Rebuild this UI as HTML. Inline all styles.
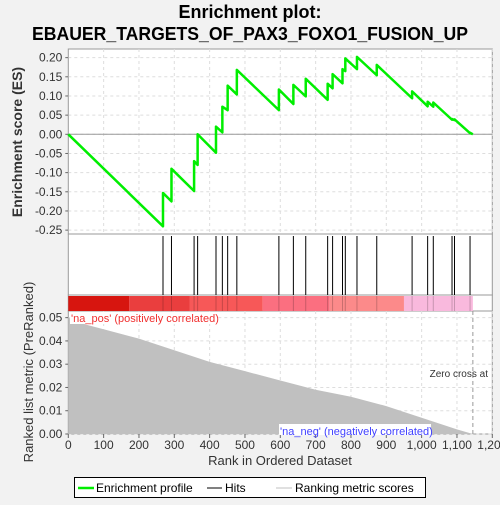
<!DOCTYPE html>
<html><head><meta charset="utf-8"><style>
body{margin:0;background:#f2f2f2;width:500px;height:500px;overflow:hidden;font-family:"Liberation Sans","DejaVu Sans",sans-serif}
</style></head><body>
<svg id="chart" width="500" height="500" xmlns="http://www.w3.org/2000/svg">
<text x="250" y="18" text-anchor="middle" font-size="18" font-weight="bold" fill="#000">Enrichment plot:</text>
<text x="250" y="40" text-anchor="middle" font-size="18" font-weight="bold" fill="#000" textLength="436" lengthAdjust="spacingAndGlyphs">EBAUER_TARGETS_OF_PAX3_FOXO1_FUSION_UP</text>
<g id="g"></g>
</svg>
<script>
const hitRanks=[268,292,356,366,418,436,451,477,596,637,672,734,748,776,784,817,873,973,1017,1033,1086,1093,1137];
const esBefore=[-0.240,-0.175,-0.148,-0.080,-0.048,0.005,0.063,0.104,0.063,0.079,0.099,0.090,0.120,0.133,0.165,0.170,0.154,0.094,0.073,0.072,0.038,0.037,0.003];
const esAfter=[-0.153,-0.090,-0.070,0.000,0.020,0.072,0.127,0.168,0.117,0.129,0.145,0.132,0.157,0.170,0.198,0.202,0.181,0.112,0.085,0.083,0.040,0.039,0.004];
const totalRanks=1145;
const metricRanks=[0,50,100,200,300,400,500,600,700,800,900,1000,1100,1145];
const metricVals=[0.050,0.047,0.045,0.041,0.036,0.031,0.027,0.023,0.019,0.016,0.012,0.007,0.002,0.000];
const esTicks=[0.20,0.15,0.10,0.05,0.00,-0.05,-0.10,-0.15,-0.20,-0.25];
const metricTicks=[0.05,0.04,0.03,0.02,0.01,0.00];
const xTicks=[0,100,200,300,400,500,600,700,800,900,1000,1100,1200];
const xTickLabels=["0","100","200","300","400","500","600","700","800","900","1,000","1,100","1,200"];
const bands=[[0,172,"#d7150f"],[172,343,"#ea3e3e"],[343,550,"#f75858"],[550,740,"#fb6f80"],[740,950,"#fc8a8a"],[950,1145,"#f9b9dd"]];

const L=68.3,R=492.3;
const X=r=>L+(R-L)*r/1200;
const YE=v=>134.3-v*383.3;
const YM=v=>434-v*2327;
const g=document.getElementById('g');
const NS="http://www.w3.org/2000/svg";
function mk(t,a,p){const e=document.createElementNS(NS,t);for(const k in a)e.setAttribute(k,a[k]);(p||g).appendChild(e);return e;}

// panel backgrounds
let e;
e=mk('rect',{x:L,y:49,width:R-L,height:185,fill:'#fff',stroke:'#999'});


e=mk('rect',{x:L,y:234,width:R-L,height:61,fill:'#fff',stroke:'#999'});


e=mk('rect',{x:L,y:295,width:R-L,height:16,fill:'#fff',stroke:'#999'});


e=mk('rect',{x:L,y:311,width:R-L,height:123,fill:'#fff',stroke:'#999'});



// grids
xTicks.forEach(t=>{
 if(t===0)return;
 mk('line',{x1:X(t),x2:X(t),y1:49,y2:234,stroke:'#ddd','stroke-dasharray':'3,3'});
 mk('line',{x1:X(t),x2:X(t),y1:311,y2:434,stroke:'#ddd','stroke-dasharray':'3,3'});
});
esTicks.forEach(t=>{
 mk('line',{x1:L,x2:R,y1:YE(t),y2:YE(t),stroke:'#ddd','stroke-dasharray':'3,3'});
 e=mk('text',{x:L-6,y:YE(t)+4,'text-anchor':'end','font-size':12,fill:'#333'});
 e.textContent=t.toFixed(2);
 
 
 mk('line',{x1:L-3,x2:L,y1:YE(t),y2:YE(t),stroke:'#666'});
});
mk('line',{x1:L,x2:R,y1:YE(0),y2:YE(0),stroke:'#999'});
metricTicks.forEach(t=>{
 mk('line',{x1:L,x2:R,y1:YM(t),y2:YM(t),stroke:'#ddd','stroke-dasharray':'3,3'});
 e=mk('text',{x:L-6,y:YM(t)+4,'text-anchor':'end','font-size':12,fill:'#333'});
 e.textContent=t.toFixed(2);
 
 
 mk('line',{x1:L-3,x2:L,y1:YM(t),y2:YM(t),stroke:'#666'});
});
xTicks.forEach((t,i)=>{
 mk('line',{x1:X(t),x2:X(t),y1:434,y2:438,stroke:'#666'});
 e=mk('text',{x:X(t),y:449,'text-anchor':'middle','font-size':12,fill:'#333'});
 e.textContent=xTickLabels[i];
 
 
});

// color bands
bands.forEach(b=>{
 e=mk('rect',{x:X(b[0]),y:296,width:X(b[1])-X(b[0]),height:15,fill:b[2]});
 
 
});

// metric area
let pts=[[X(0),YM(0)]];
metricRanks.forEach((r,i)=>pts.push([X(r),YM(metricVals[i])]));
pts.push([X(metricRanks[metricRanks.length-1]),YM(0)]);
e=mk('polygon',{points:pts.map(p=>p.join(',')).join(' '),fill:'#c0c0c0'});


mk('line',{x1:X(totalRanks),x2:X(totalRanks),y1:311,y2:434,stroke:'#999','stroke-dasharray':'4,3'});
e=mk('text',{x:488,y:377,'text-anchor':'end','font-size':10,fill:'#333'});
e.textContent='Zero cross at';


e=mk('rect',{x:70,y:312,width:146,height:12,fill:'#fff'});
e=mk('text',{x:71,y:322,'font-size':11,fill:'#f03030'});
e.textContent="'na_pos' (positively correlated)";


e=mk('rect',{x:279,y:424,width:152,height:11,fill:'#fff'});
e=mk('text',{x:280,y:435,'font-size':11,fill:'#4040ff'});
e.textContent="'na_neg' (negatively correlated)";



// hits
hitRanks.forEach(r=>{
 e=mk('line',{x1:X(r),x2:X(r),y1:236,y2:295,stroke:'#000','stroke-width':1});
 
 
 mk('line',{x1:X(r),x2:X(r),y1:296,y2:311,stroke:'rgba(0,0,0,0.2)'});
});

// ES line
let d='M'+X(0)+','+YE(0);
hitRanks.forEach((r,i)=>{d+=' L'+X(r)+','+YE(esBefore[i])+' L'+X(r)+','+YE(esAfter[i]);});
d+=' L'+X(totalRanks)+','+YE(0);
e=mk('path',{d:d,fill:'none',stroke:'#00ee00','stroke-width':2.5,'stroke-linejoin':'round'});



// axis titles
e=mk('text',{x:0,y:0,'font-size':14,'font-weight':'bold',fill:'#333','text-anchor':'middle',transform:'translate(22,142) rotate(-90)'});
e.textContent='Enrichment score (ES)';


e=mk('text',{x:0,y:0,'font-size':13,fill:'#333','text-anchor':'middle',transform:'translate(33,372) rotate(-90)'});
e.textContent='Ranked list metric (PreRanked)';


e=mk('text',{x:280,y:465,'font-size':13,fill:'#333','text-anchor':'middle'});
e.textContent='Rank in Ordered Dataset';



// legend
e=mk('rect',{x:74.5,y:477.5,width:351,height:20,fill:'#fff',stroke:'#000'});


mk('line',{x1:78,x2:94,y1:488,y2:488,stroke:'#00ee00','stroke-width':2.5});
e=mk('text',{x:96,y:492,'font-size':12,fill:'#000'});e.textContent='Enrichment profile';


mk('line',{x1:207,x2:222,y1:488,y2:488,stroke:'#000','stroke-width':1});
e=mk('text',{x:225,y:492,'font-size':12,fill:'#000'});e.textContent='Hits';


mk('line',{x1:276,x2:292,y1:488,y2:488,stroke:'#c0c0c0','stroke-width':1});
e=mk('text',{x:295,y:492,'font-size':12,fill:'#000'});e.textContent='Ranking metric scores';


</script>
</body></html>
